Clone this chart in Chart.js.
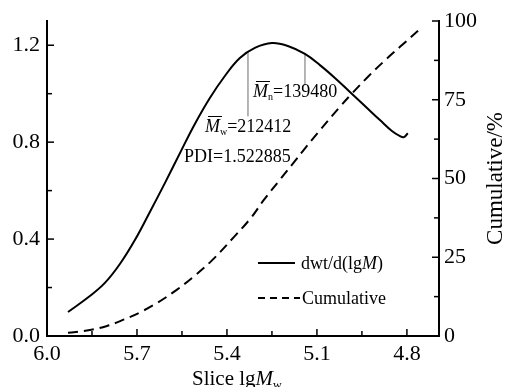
<!DOCTYPE html>
<html>
<head>
<meta charset="utf-8">
<script src="https://cdn.jsdelivr.net/npm/chart.js@4.4.1/dist/chart.umd.min.js"></script>
<style>
  html, body { margin: 0; padding: 0; background: #fff; }
</style>
</head>
<body>
<canvas id="gpcChart" width="509" height="387"></canvas>
<script>
// slice lgM vs dwt/d(lgM)
const dwtLg = [5.93, 5.857, 5.807, 5.757, 5.707, 5.657, 5.607, 5.553, 5.507, 5.457, 5.407, 5.357, 5.307, 5.25, 5.197, 5.14, 5.09, 5.04, 4.99, 4.94, 4.89, 4.85, 4.823, 4.81, 4.797];
const dwtValues = [0.099, 0.165, 0.219, 0.297, 0.396, 0.512, 0.631, 0.764, 0.875, 0.982, 1.073, 1.147, 1.189, 1.209, 1.197, 1.164, 1.118, 1.065, 1.007, 0.949, 0.891, 0.846, 0.825, 0.821, 0.837];

// cumulative %
const cumLg = [5.93, 5.857, 5.80, 5.747, 5.69, 5.633, 5.57, 5.513, 5.45, 5.377, 5.32, 5.277, 5.22, 5.173, 5.147, 5.10, 5.023, 4.98, 4.933, 4.88, 4.823, 4.763];
const cumValues = [1.0, 1.9, 3.2, 5.1, 7.5, 10.5, 14.5, 18.7, 24.0, 31.4, 37.5, 43.2, 50.0, 55.6, 58.7, 64.2, 72.8, 77.3, 82.0, 86.9, 91.8, 96.9];

// Mw / Mn marker lines
const markerLg = [5.33, 5.14];
const markerTop = [1.172, 1.164];
const markerBottom = [0.907, 1.035];

const xTicks = [6.0, 5.7, 5.4, 5.1, 4.8];
const xMinor = [5.85, 5.55, 5.25, 4.95];
const leftTicks = [0, 0.4, 0.8, 1.2];
const leftMinor = [0.2, 0.6, 1.0];
const rightTicks = [0, 25, 50, 75, 100];
const rightMinor = [12.5, 37.5, 62.5, 87.5];

const FONT = '"Liberation Serif", "Times New Roman", serif';

const toPoints = (xs, ys) => xs.map((x, i) => ({ x, y: ys[i] }));

const markerSets = markerLg.map((lg, i) => ({
  data: [{ x: lg, y: markerTop[i] }, { x: lg, y: markerBottom[i] }],
  yAxisID: "y",
  borderColor: "#aaaaaa",
  borderWidth: 1,
  pointRadius: 0,
  tension: 0,
}));

function drawRich(ctx, x, y, parts) {
  parts.forEach(p => {
    ctx.font = `${p.italic ? "italic " : ""}${p.size}px ${FONT}`;
    const dy = p.dy || 0;
    ctx.fillText(p.text, x, y + dy);
    const w = ctx.measureText(p.text).width;
    if (p.bar) {
      ctx.beginPath();
      ctx.lineWidth = 1;
      ctx.moveTo(x + 3, y - 15.5);
      ctx.lineTo(x + w + 2, y - 15.5);
      ctx.stroke();
    }
    x += w;
  });
}

const decorations = {
  id: "decorations",
  afterDraw(chart) {
    const { ctx, chartArea: ca, scales } = chart;
    const sx = scales.x, sy = scales.y, sr = scales.y1;
    ctx.save();
    ctx.strokeStyle = "#000";
    ctx.fillStyle = "#000";

    // axis lines
    ctx.lineWidth = 2;
    ctx.beginPath();
    ctx.moveTo(ca.left, ca.top - 1);
    ctx.lineTo(ca.left, ca.bottom);
    ctx.lineTo(ca.right, ca.bottom);
    ctx.lineTo(ca.right, ca.top - 1);
    ctx.stroke();

    // inward ticks
    ctx.lineWidth = 1.5;
    const tick = (x1, y1, x2, y2) => { ctx.beginPath(); ctx.moveTo(x1, y1); ctx.lineTo(x2, y2); ctx.stroke(); };
    xTicks.forEach(v => { const p = sx.getPixelForValue(v); tick(p, ca.bottom, p, ca.bottom - 7); });
    xMinor.forEach(v => { const p = sx.getPixelForValue(v); tick(p, ca.bottom, p, ca.bottom - 5); });
    leftTicks.forEach(v => { const p = sy.getPixelForValue(v); tick(ca.left, p, ca.left + 7, p); });
    leftMinor.forEach(v => { const p = sy.getPixelForValue(v); tick(ca.left, p, ca.left + 5, p); });
    rightTicks.forEach(v => { const p = sr.getPixelForValue(v); tick(ca.right, p, ca.right - 7, p); });
    rightMinor.forEach(v => { const p = sr.getPixelForValue(v); tick(ca.right, p, ca.right - 5, p); });

    // annotations
    ctx.textBaseline = "alphabetic";
    ctx.textAlign = "left";
    drawRich(ctx, 253, 97, [
      { text: "M", italic: true, size: 18, bar: true },
      { text: "n", size: 10, dy: 3 },
      { text: "=139480", size: 18 },
    ]);
    drawRich(ctx, 205, 132, [
      { text: "M", italic: true, size: 18, bar: true },
      { text: "w", size: 10, dy: 3 },
      { text: "=212412", size: 18 },
    ]);
    drawRich(ctx, 184, 162, [{ text: "PDI=1.522885", size: 18 }]);

    // legend
    ctx.lineWidth = 2;
    tick(258, 263, 295, 263);
    ctx.setLineDash([7, 5]);
    tick(258, 298, 300, 298);
    ctx.setLineDash([]);
    drawRich(ctx, 301, 269, [
      { text: "dwt/d(lg", size: 18 },
      { text: "M", italic: true, size: 18 },
      { text: ")", size: 18 },
    ]);
    drawRich(ctx, 302, 304, [{ text: "Cumulative", size: 18 }]);

    // axis titles
    drawRich(ctx, 192, 385, [
      { text: "Slice lg", size: 21 },
      { text: "M", italic: true, size: 21 },
      { text: "w", size: 12, dy: 4 },
    ]);
    ctx.translate(496, (ca.top + ca.bottom) / 2);
    ctx.rotate(-Math.PI / 2);
    ctx.textAlign = "center";
    ctx.textBaseline = "middle";
    ctx.font = `23px ${FONT}`;
    ctx.fillText("Cumulative/%", 0, 0);
    ctx.restore();
  },
};

const tickFont = { family: FONT, size: 22 };

new Chart(document.getElementById("gpcChart"), {
  type: "line",
  data: {
    datasets: [
      {
        label: "dwt/d(lgM)",
        data: toPoints(dwtLg, dwtValues),
        yAxisID: "y",
        borderColor: "#000",
        borderWidth: 2,
        pointRadius: 0,
        tension: 0.4,
      },
      {
        label: "Cumulative",
        data: toPoints(cumLg, cumValues),
        yAxisID: "y1",
        borderColor: "#000",
        borderWidth: 2,
        borderDash: [10, 6],
        pointRadius: 0,
        tension: 0.4,
      },
      ...markerSets,
    ],
  },
  options: {
    responsive: false,
    animation: false,
    devicePixelRatio: 1,
    layout: { padding: { top: 21, left: 0, right: 0, bottom: 0 } },
    plugins: { legend: { display: false }, tooltip: { enabled: false } },
    scales: {
      x: {
        type: "linear",
        reverse: true,
        min: 4.693,
        max: 6.0,
        afterBuildTicks: s => { s.ticks = xTicks.map(v => ({ value: v })); },
        afterFit: s => { s.height = 51; },
        grid: { display: false, drawTicks: false },
        border: { display: false },
        ticks: { font: tickFont, color: "#000", padding: 5, maxRotation: 0, callback: v => v.toFixed(1) },
      },
      y: {
        position: "left",
        min: 0,
        max: 1.3,
        afterBuildTicks: s => { s.ticks = leftTicks.map(v => ({ value: v })); },
        afterFit: s => { s.width = 47; },
        grid: { display: false, drawTicks: false },
        border: { display: false },
        ticks: { font: tickFont, color: "#000", padding: 7, callback: v => v.toFixed(1) },
      },
      y1: {
        position: "right",
        min: 0,
        max: 100,
        afterBuildTicks: s => { s.ticks = rightTicks.map(v => ({ value: v })); },
        afterFit: s => { s.width = 70; },
        grid: { display: false, drawTicks: false },
        border: { display: false },
        ticks: { font: tickFont, color: "#000", padding: 5 },
      },
    },
  },
  plugins: [decorations],
});
</script>
</body>
</html>
